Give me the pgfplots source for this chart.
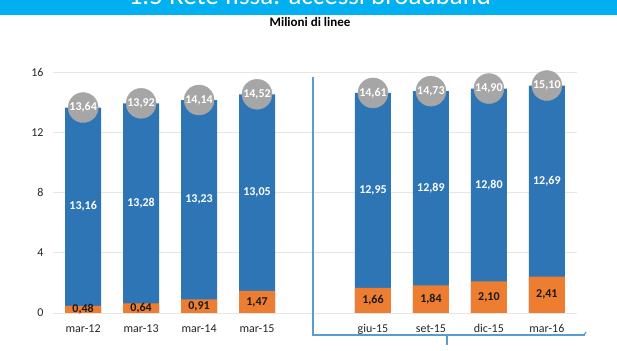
\documentclass[border=0pt]{standalone}
\usepackage{pgfplots}
\pgfplotsset{compat=1.18}
\usepackage{pgfplotstable}
\usepackage{fontspec}
\setmainfont{Carlito}
\definecolor{cblue}{HTML}{2E75B6}
\definecolor{corange}{HTML}{ED7D31}
\definecolor{cgray}{HTML}{A6A6A6}
\definecolor{cband}{HTML}{00B0F0}
\definecolor{cbrack}{HTML}{5B9BD5}
\definecolor{cgrid}{HTML}{E6E6E6}
\pgfplotstableread{
x orange blue total
0 0.48 13.16 13.64
1 0.64 13.28 13.92
2 0.91 13.23 14.14
3 1.47 13.05 14.52
5 1.66 12.95 14.61
6 1.84 12.89 14.73
7 2.10 12.80 14.90
8 2.41 12.69 15.10
}\data
\begin{document}
\begin{tikzpicture}[x=1pt,y=1pt]
\useasboundingbox (0,0) rectangle (617,350);
\fill[cband] (0,335) rectangle (617,350);
\begin{scope}
\clip (0,335) rectangle (617,350);
\node[white, font=\fontsize{27}{27}\selectfont, anchor=base, inner sep=0] at (310,345) {1.5 Rete fissa: accessi broadband};
\end{scope}
\node[font=\fontsize{13}{13}\selectfont\bfseries] at (310,328) {Milioni di linee};
\begin{axis}[
  at={(53pt,37pt)}, anchor=south west,
  scale only axis, width=524pt, height=241pt,
  xmin=-0.52, xmax=8.52, ymin=0, ymax=16,
  axis line style={draw=none},
  tick style={draw=none},
  ytick={0,4,8,12,16},
  xtick={0,1,2,3,5,6,7,8},
  xticklabels={mar-12,mar-13,mar-14,mar-15,giu-15,set-15,dic-15,mar-16},
  major tick length=0pt,
  ymajorgrids, grid style={cgrid, line width=0.8pt},
  /pgf/number format/assume math mode=true,
  ticklabel style={font=\fontsize{12}{12}\selectfont, text=black!85},
  yticklabel style={xshift=-6pt},
  xticklabel style={yshift=-8pt},
  clip=false,
  lbl/.style={nodes near coords={\pgfmathprintnumber[use comma,fixed,fixed zerofill,precision=2]{\pgfplotspointmeta}},
    point meta=explicit,
    every node near coord/.append style={anchor=center, font=\fontsize{12}{12}\selectfont\bfseries, inner sep=0}},
]
\addplot[ybar, bar width=36pt, bar shift=0pt, fill=cblue, draw=none] table[x=x,y=total] {\data};
\addplot[ybar, bar width=36pt, bar shift=0pt, fill=corange, draw=none] table[x=x,y=orange] {\data};
\addplot[only marks, color=cgray, mark=*, mark size=15pt, mark options={fill=cgray, draw=cgray}, lbl,
  every node near coord/.append style={text=white}]
  table[x=x,y=total,meta=total] {\data};
\addplot[draw=none, mark=none, lbl, every node near coord/.append style={text=white}]
  table[x=x,y expr=\thisrow{orange}+\thisrow{blue}/2,meta=blue] {\data};
\addplot[draw=none, mark=none, lbl, every node near coord/.append style={text=black!90}]
  table[x=x,y expr=\thisrow{orange}/2,meta=orange] {\data};
\end{axis}
\draw[cbrack, line width=1.5pt] (313,273) -- (313,15) -- (585,15);
\draw[cbrack, line width=1.5pt] (447,15) -- (447,5);
\draw[cbrack, line width=1.2pt] (584,15) -- (586,18);
\end{tikzpicture}
\end{document}
